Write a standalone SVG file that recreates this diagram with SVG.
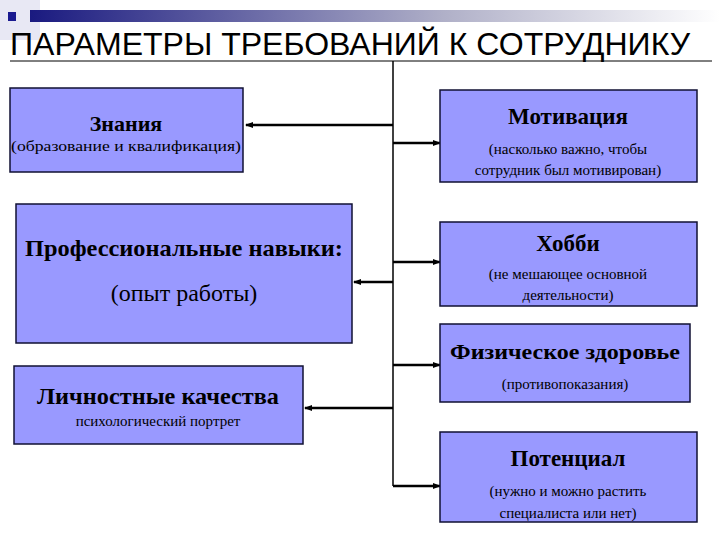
<svg xmlns="http://www.w3.org/2000/svg" width="720" height="540" viewBox="0 0 720 540">
<defs>
<linearGradient id="g" x1="0" x2="1" y1="0" y2="0"><stop offset="0" stop-color="#1a1a80"/><stop offset="0.6" stop-color="#b0b0c8"/><stop offset="1" stop-color="#ffffff"/></linearGradient>
<marker id="ah" markerWidth="8" markerHeight="8" refX="7" refY="4" orient="auto" markerUnits="userSpaceOnUse"><path d="M0,1 L8,4 L0,7 Z" fill="#000"/></marker>
</defs>
<style>
.box{fill:#9999ff;stroke:#111133;stroke-width:1.5}
.h{font-family:"Liberation Serif",serif;font-weight:bold;fill:#000;text-anchor:middle}
.s{font-family:"Liberation Serif",serif;fill:#000;text-anchor:middle}
.c{stroke:#000;stroke-width:2.5;fill:none}
</style>
<rect width="720" height="540" fill="#fff"/>
<rect x="0" y="0" width="40" height="40" fill="#e8e8f4"/>
<rect x="30" y="10" width="690" height="12" fill="url(#g)"/>
<rect x="8" y="12" width="8" height="9" fill="#1a1a90"/>
<text x="10" y="55" font-family="Liberation Sans,Arial,sans-serif" font-size="31" fill="#000" textLength="680" lengthAdjust="spacingAndGlyphs">ПАРАМЕТРЫ ТРЕБОВАНИЙ К СОТРУДНИКУ</text>
<line x1="10" y1="61" x2="712" y2="61" stroke="#000" stroke-width="1"/>
<g id="connectors">
<line x1="393" y1="61" x2="393" y2="486" stroke="#000" stroke-width="1.5"/>
<line class="c" x1="393" y1="125" x2="246" y2="125" marker-end="url(#ah)"/>
<line class="c" x1="393" y1="143" x2="440" y2="143" marker-end="url(#ah)"/>
<line class="c" x1="393" y1="282" x2="354" y2="282" marker-end="url(#ah)"/>
<line class="c" x1="393" y1="262" x2="440" y2="262" marker-end="url(#ah)"/>
<line class="c" x1="393" y1="365" x2="440" y2="365" marker-end="url(#ah)"/>
<line class="c" x1="393" y1="408" x2="305" y2="408" marker-end="url(#ah)"/>
<line class="c" x1="393" y1="486" x2="440" y2="486" marker-end="url(#ah)"/>
</g>
<g id="znaniya"><rect class="box" x="10" y="88" width="233" height="84"/>
<text class="h" x="126" y="131" font-size="22">Знания</text>
<text class="s" x="126" y="151" font-size="15" textLength="230" lengthAdjust="spacingAndGlyphs">(образование и квалификация)</text></g>
<g id="motivaciya"><rect class="box" x="440" y="90" width="257" height="92"/>
<text class="h" x="568" y="124" font-size="23">Мотивация</text>
<text class="s" x="568" y="154" font-size="15">(насколько важно, чтобы</text>
<text class="s" x="568" y="175" font-size="15">сотрудник был мотивирован)</text></g>
<g id="prof"><rect class="box" x="16" y="204" width="336" height="139"/>
<text class="h" x="184" y="256" font-size="23" textLength="318" lengthAdjust="spacingAndGlyphs">Профессиональные навыки:</text>
<text class="s" x="184" y="301" font-size="24">(опыт работы)</text></g>
<g id="hobbi"><rect class="box" x="440" y="222" width="257" height="84"/>
<text class="h" x="568" y="251" font-size="23">Хобби</text>
<text class="s" x="568" y="279" font-size="15">(не мешающее основной</text>
<text class="s" x="568" y="300" font-size="15">деятельности)</text></g>
<g id="zdorovie"><rect class="box" x="440" y="324" width="250" height="78"/>
<text class="h" x="565" y="359" font-size="22" textLength="230" lengthAdjust="spacingAndGlyphs">Физическое здоровье</text>
<text class="s" x="565" y="389" font-size="15">(противопоказания)</text></g>
<g id="lichnost"><rect class="box" x="14" y="366" width="289" height="78"/>
<text class="h" x="158" y="404" font-size="23" textLength="242" lengthAdjust="spacingAndGlyphs">Личностные качества</text>
<text class="s" x="158" y="426" font-size="15">психологический портрет</text></g>
<g id="potencial"><rect class="box" x="440" y="432" width="257" height="90"/>
<text class="h" x="568" y="466" font-size="23">Потенциал</text>
<text class="s" x="568" y="496" font-size="15">(нужно и можно растить</text>
<text class="s" x="568" y="518" font-size="15">специалиста или нет)</text></g>
</svg>
